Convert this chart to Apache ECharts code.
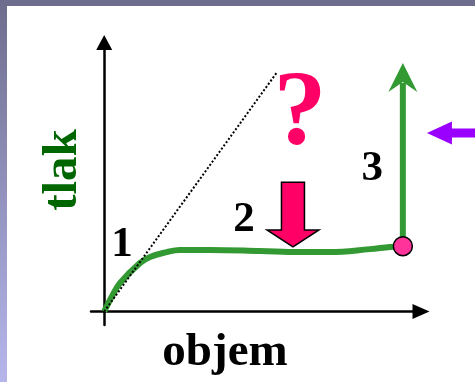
<!DOCTYPE html>
<html>
<head>
<meta charset="utf-8">
<script src="https://cdn.jsdelivr.net/npm/echarts@6/dist/echarts.min.js"></script>
<style>
  html, body { margin: 0; padding: 0; }
  #wrap {
    position: relative;
    width: 475px;
    height: 382px;
    overflow: hidden;
    background: linear-gradient(to bottom, #6e6d8d, #b6b6ec);
  }
  #topbar { position: absolute; left: 0; top: 0; width: 475px; height: 6px; background: #6e6d8d; }
  #panel { position: absolute; left: 7px; top: 6px; right: 0; bottom: 0; background: #fff; }
  #chart { position: absolute; left: 0; top: 0; width: 475px; height: 382px; }
</style>
</head>
<body>
<div id="wrap">
  <div id="topbar"></div>
  <div id="panel"></div>
  <div id="chart"></div>
</div>
<script>
// krivka tlak / objem
const curvePoints = [
  [0, 0], [2.4, 5.8], [4.8, 10.6], [10.8, 18.0], [13.9, 20.3], [19.0, 22.1],
  [22.9, 22.9], [32.0, 22.9], [47.2, 22.5], [59.3, 22.1], [68.4, 22.1],
  [80.5, 23.2], [86.6, 24.0], [90.5, 24.3]
];
// teoreticka primka (tecna v pocatku)
const linearPoints = [[0, 0], [52.4, 89.0]];
// koncovy bod
const endPoint = [[90.5, 24.3]];
// [x, y od, y do]
const riseArrow = [[90.5, 24.3, 92.4]];
// [x, y nahore, y spicka]
const dropArrow = [[57.2, 48.1, 24.0]];
// [x konec, x spicka, y]
const pushArrow = [[116, 97.8, 66.4]];
// popisky useku
const stageLabels = ['1', '2', '3'];
const stageLabelPos = [[5.4, 24.8], [42.4, 34.0], [81.2, 53.0]];
const questionPos = [[59.3, 72.6]];

const serif = '"Liberation Serif", "Times New Roman", serif';
const chart = echarts.init(document.getElementById('chart'));

const option = {
  animation: false,
  backgroundColor: 'transparent',
  grid: { left: 91, right: 54, top: 42.5, bottom: 57 },
  xAxis: {
    type: 'value',
    min: -4,
    max: 96,
    splitLine: { show: false },
    axisTick: { show: false },
    axisLabel: { show: false },
    axisLine: {
      onZero: true,
      symbol: ['none', 'triangle'],
      symbolSize: [15, 17],
      lineStyle: { color: '#000', width: 2.5 },
    },
  },
  yAxis: {
    type: 'value',
    min: -5,
    max: 100,
    splitLine: { show: false },
    axisTick: { show: false },
    axisLabel: { show: false },
    axisLine: {
      onZero: true,
      symbol: ['none', 'triangle'],
      symbolSize: [16, 15],
      lineStyle: { color: '#000', width: 2.5 },
    },
  },
  graphic: [
    {
      type: 'text',
      x: 63,
      y: 170,
      rotation: Math.PI / 2,
      style: {
        text: 'tlak',
        font: 'bold 49px ' + serif,
        fill: '#006600',
        textAlign: 'center',
        textVerticalAlign: 'middle',
      },
    },
    {
      type: 'text',
      x: 225,
      y: 353,
      style: {
        text: 'objem',
        font: 'bold 47px ' + serif,
        fill: '#000',
        textAlign: 'center',
        textVerticalAlign: 'middle',
      },
    },
  ],
  series: [
    {
      name: 'krivka',
      type: 'line',
      data: curvePoints,
      smooth: 0.4,
      showSymbol: false,
      silent: true,
      z: 2,
      lineStyle: { color: '#339933', width: 6 },
    },
    {
      name: 'primka',
      type: 'line',
      data: linearPoints,
      showSymbol: false,
      silent: true,
      z: 3,
      lineStyle: { color: '#000', width: 2, type: 'dotted' },
    },
    {
      name: 'narust',
      type: 'custom',
      clip: false,
      silent: true,
      z: 3,
      data: riseArrow,
      renderItem: (params, api) => {
        const base = api.coord([api.value(0), api.value(1)]);
        const tip = api.coord([api.value(0), api.value(2)]);
        return {
          type: 'group',
          children: [
            {
              type: 'line',
              shape: { x1: base[0], y1: base[1], x2: tip[0], y2: tip[1] + 20 },
              style: { stroke: '#339933', lineWidth: 6 },
            },
            {
              type: 'polygon',
              shape: {
                points: [
                  [tip[0], tip[1]],
                  [tip[0] + 14.5, tip[1] + 29],
                  [tip[0], tip[1] + 19],
                  [tip[0] - 14.5, tip[1] + 29],
                ],
              },
              style: { fill: '#339933' },
            },
          ],
        };
      },
    },
    {
      name: 'pokles',
      type: 'custom',
      clip: false,
      silent: true,
      z: 4,
      data: dropArrow,
      renderItem: (params, api) => {
        const top = api.coord([api.value(0), api.value(1)]);
        const tip = api.coord([api.value(0), api.value(2)]);
        const cx = tip[0];
        const hb = tip[1] - 17;
        return {
          type: 'polygon',
          shape: {
            points: [
              [cx, tip[1]],
              [cx + 26, hb],
              [cx + 11.5, hb],
              [cx + 11.5, top[1]],
              [cx - 11.5, top[1]],
              [cx - 11.5, hb],
              [cx - 26, hb],
            ],
          },
          style: { fill: '#ff0066', stroke: '#000', lineWidth: 1.5 },
        };
      },
    },
    {
      name: 'tlaceni',
      type: 'custom',
      clip: false,
      silent: true,
      z: 4,
      data: pushArrow,
      renderItem: (params, api) => {
        const tail = api.coord([api.value(0), api.value(2)]);
        const tip = api.coord([api.value(1), api.value(2)]);
        const y = tip[1];
        const hb = tip[0] + 25;
        return {
          type: 'polygon',
          shape: {
            points: [
              [tip[0], y],
              [hb, y - 11.5],
              [hb, y - 4.5],
              [tail[0], y - 4.5],
              [tail[0], y + 4.5],
              [hb, y + 4.5],
              [hb, y + 11.5],
            ],
          },
          style: { fill: '#9900ff' },
        };
      },
    },
    {
      name: 'bod',
      type: 'scatter',
      data: endPoint,
      symbolSize: 19,
      silent: true,
      z: 5,
      itemStyle: { color: '#ff3399', borderColor: '#000', borderWidth: 1.5, opacity: 1 },
    },
    {
      name: 'popisky',
      type: 'scatter',
      data: stageLabelPos.map((p, i) => ({ value: p, name: stageLabels[i] })),
      symbolSize: 1,
      silent: true,
      z: 6,
      itemStyle: { color: 'rgba(0,0,0,0)', opacity: 1 },
      label: {
        show: true,
        position: 'inside',
        formatter: '{b}',
        color: '#000',
        fontFamily: serif,
        fontWeight: 'bold',
        fontSize: 43,
      },
    },
    {
      name: 'otaznik',
      type: 'scatter',
      data: questionPos.map((p) => ({ value: p, name: '?' })),
      symbolSize: 1,
      silent: true,
      z: 6,
      itemStyle: { color: 'rgba(0,0,0,0)', opacity: 1 },
      label: {
        show: true,
        position: 'inside',
        formatter: '{b}',
        color: '#ff0066',
        fontFamily: serif,
        fontWeight: 'bold',
        fontSize: 106,
      },
    },
  ],
};

chart.setOption(option);
</script>
</body>
</html>
